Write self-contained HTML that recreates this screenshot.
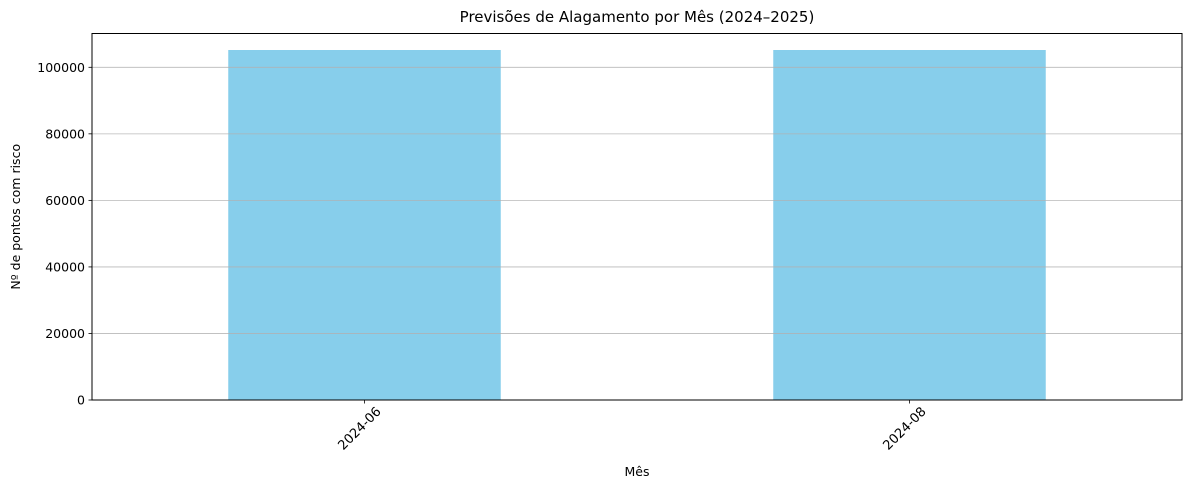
<!DOCTYPE html>
<html><head><meta charset="utf-8"><style>
body{margin:0;background:#fff;font-family:"Liberation Sans","DejaVu Sans",sans-serif;}
</style></head><body>
<svg id="chart" width="1189" height="490" xmlns="http://www.w3.org/2000/svg" font-family="DejaVu Sans, Liberation Sans, sans-serif">
<rect width="1189" height="490" fill="#fff"/>
<g id="bars"></g><g id="grid"></g><g id="axes"></g>
</svg>
<script>
const categories = ["2024-06", "2024-08"];
const values = [105200, 105200];
const yTicks = [0, 20000, 40000, 60000, 80000, 100000];

const L = 92, R = 1182, T = 33.5, B = 400;
const ns = "http://www.w3.org/2000/svg";
const yScale = v => B - v / 100000 * 332.7;
const xScale = i => L + (i + 0.5) / categories.length * (R - L);
const band = (R - L) / categories.length;
function mk(tag, attrs, parent, text) {
  const e = document.createElementNS(ns, tag);
  for (const k in attrs) e.setAttribute(k, attrs[k]);
  if (text !== undefined) e.textContent = text;
  parent.appendChild(e);
  return e;
}
const grid = document.getElementById('grid'), bars = document.getElementById('bars'), axes = document.getElementById('axes');
yTicks.forEach(t => {
  const y = yScale(t);
  const g = mk('line', {x1: L, x2: R, y1: y, y2: y, stroke: '#b0b0b0', 'stroke-width': 0.8, 'stroke-opacity': 0.9}, grid);
  
  
  const tk = mk('line', {x1: L - 3.5, x2: L, y1: y, y2: y, stroke: '#000', 'stroke-width': 0.8}, axes);
  
  
  const lb = mk('text', {x: L - 7, y: y + 4.5, 'text-anchor': 'end', 'font-size': 12.5}, axes, String(t));
  
  
});
categories.forEach((c, i) => {
  const cx = xScale(i), w = band * 0.5;
  const b = mk('rect', {x: cx - w / 2, y: yScale(values[i]), width: w, height: B - yScale(values[i]), fill: '#87ceeb'}, bars);
  
  
  const tk = mk('line', {x1: cx, x2: cx, y1: B, y2: B + 3.5, stroke: '#000', 'stroke-width': 0.8}, axes);
  
  
  const ax = cx + 11, ay = B + 6;
  const lb = mk('text', {x: ax, y: ay, 'text-anchor': 'end', 'font-size': 13, transform: `rotate(-45 ${ax} ${ay})`, 'dominant-baseline': 'hanging'}, axes, c);
  
  
});
const frame = mk('rect', {x: L, y: T, width: R - L, height: B - T, fill: 'none', stroke: '#000', 'stroke-width': 1}, axes);


const title = mk('text', {x: (L + R) / 2, y: 22, 'text-anchor': 'middle', 'font-size': 15}, axes, 'Previsões de Alagamento por Mês (2024–2025)');


const xt = mk('text', {x: (L + R) / 2, y: 476, 'text-anchor': 'middle', 'font-size': 12.5}, axes, 'Mês');


const yt = mk('text', {x: 20, y: (T + B) / 2, 'text-anchor': 'middle', 'font-size': 12.5, transform: `rotate(-90 20 ${(T + B) / 2})`}, axes, 'Nº de pontos com risco');


</script>
</body></html>
